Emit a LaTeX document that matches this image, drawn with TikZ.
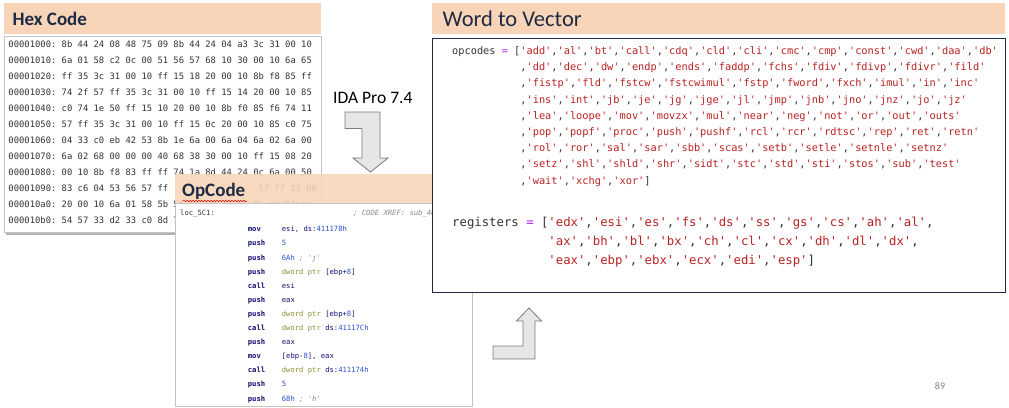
\documentclass[tikz,border=0pt]{standalone}
\usepackage{fontspec}
\setmainfont{Carlito}
\setmonofont{DejaVu Sans Mono}
\usetikzlibrary{shadows,decorations.pathmorphing}

\definecolor{peach}{HTML}{F8D5B9}
\definecolor{navy}{HTML}{1F2A44}
\definecolor{hexgray}{HTML}{333333}
\definecolor{codeblack}{HTML}{333333}
\definecolor{str}{HTML}{BA2121}
\definecolor{opc}{HTML}{AA22FF}
\definecolor{mnem}{HTML}{101070}
\definecolor{num}{HTML}{2B4FD0}
\definecolor{ptrcol}{HTML}{8E8E3A}
\definecolor{cmtgray}{HTML}{8A8A8A}
\definecolor{arrowfill}{HTML}{E6E6E6}
\definecolor{arrowline}{HTML}{7A7A7A}
\definecolor{panelline}{HTML}{C4C4C4}

% quoted, comma separated string list: 'a','b','c'
\ExplSyntaxOn
\seq_new:N \l__vec_items_seq
\NewDocumentCommand \strs { m }
  {
    \seq_clear:N \l__vec_items_seq
    \clist_map_inline:nn { #1 }
      { \seq_put_right:Nn \l__vec_items_seq { \textcolor{str}{'##1'} } }
    \seq_use:Nn \l__vec_items_seq { , }
  }
\ExplSyntaxOff

% disassembly helpers
\newcommand\asm[2]{\makebox[34pt][l]{\bfseries\color{mnem}#1}#2}
\newcommand\nm[1]{\textcolor{num}{#1}}
\newcommand\rg[1]{\textcolor{mnem}{#1}}
\newcommand\dw[1]{\textcolor{ptrcol}{#1}}
\newcommand\cm[1]{\textcolor{cmtgray}{\itshape #1}}

\tikzset{
  band/.style={fill=peach, draw=none},
  title/.style={anchor=west, inner sep=0pt, text=navy,
    font=\fontsize{19}{22}\selectfont\bfseries},
  hexrow/.style={anchor=base west, inner sep=0pt, text=hexgray,
    font=\ttfamily\fontsize{8.84}{10}\selectfont},
  asmrow/.style={anchor=base west, inner sep=0pt, text=codeblack,
    font=\ttfamily\fontsize{7.2}{9}\selectfont},
  vecrow/.style={anchor=base west, inner sep=0pt, text=codeblack,
    font=\ttfamily\fontsize{10.3}{12}\selectfont},
  regrow/.style={anchor=base west, inner sep=0pt, text=codeblack,
    font=\ttfamily\fontsize{12.3}{14}\selectfont},
  blockarrow/.style={fill=arrowfill, draw=arrowline, line width=0.8pt, line join=miter},
}

\begin{document}
\begin{tikzpicture}[x=1pt,y=-1pt]
\useasboundingbox[fill=white] (0,0) rectangle (1009,407);

% ---------------- Hex Code panel ----------------
\fill[band] (4,3) rectangle (320.5,34);
\node[title] (hextitle) at (12.5,18.5) {Hex Code};
\node[draw=panelline, fill=white, line width=0.6pt, minimum width=316.5pt, minimum height=196pt,
      anchor=north west, inner sep=0pt,
      drop shadow={shadow xshift=1.5pt, shadow yshift=-2.5pt, opacity=0.3, fill=black}]
      (hexbox) at (4,36) {};
\foreach \ln [count=\i from 0] in {
  00001000: 8b 44 24 08 48 75 09 8b 44 24 04 a3 3c 31 00 10,
  00001010: 6a 01 58 c2 0c 00 51 56 57 68 10 30 00 10 6a 65,
  00001020: ff 35 3c 31 00 10 ff 15 18 20 00 10 8b f8 85 ff,
  00001030: 74 2f 57 ff 35 3c 31 00 10 ff 15 14 20 00 10 85,
  00001040: c0 74 1e 50 ff 15 10 20 00 10 8b f0 85 f6 74 11,
  00001050: 57 ff 35 3c 31 00 10 ff 15 0c 20 00 10 85 c0 75,
  00001060: 04 33 c0 eb 42 53 8b 1e 6a 00 6a 04 6a 02 6a 00,
  00001070: 6a 02 68 00 00 00 40 68 38 30 00 10 ff 15 08 20,
  00001080: 00 10 8b f8 83 ff ff 74 1a 8d 44 24 0c 6a 00 50}
  \node[hexrow] (hex\i) at ({8.3},{47.3+16*\i}) {\ln};
% rows partly hidden behind the OpCode panel
\node[hexrow] (hex9)  at (8.3,191.3) {00001090: 83 c6 04 53 56 57 ff};
\node[hexrow] (hex9b) at (258.3,191.3) {57 ff 15 00};
\node[hexrow] (hex10) at (8.3,207.3) {000010a0: 20 00 10 6a 01 58 5b 5f 5e 59 c3 55 8b ec 83 ec};
\node[hexrow] (hex11) at (8.3,223.3) {000010b0: 54 57 33 d2 33 c0 8d 7d};

% ---------------- IDA step ----------------
\node[anchor=west, inner sep=0pt, font=\fontsize{17.5}{20}\selectfont] (ida) at (333,98) {IDA Pro 7.4};
\draw[blockarrow] (345,112) -- (380,112) -- (380,158) -- (388,158) -- (370.5,172)
  -- (353,158) -- (362,158) -- (362,128.5) -- (345,128.5) -- cycle;

% ---------------- OpCode panel ----------------
\fill[band, fill opacity=0.88] (175,174) rectangle (432,203);
\node[title] (optitle) at (182,191.5) {OpCode};
\draw[red!85!black, line width=0.5pt, decorate,
      decoration={snake, amplitude=0.7pt, segment length=3pt}] (183,201) -- (247,201);
\node[draw=panelline, fill=white, line width=0.6pt, minimum width=297pt, minimum height=203pt,
      anchor=north west, inner sep=0pt,
      drop shadow={shadow xshift=0.8pt, shadow yshift=-1pt, opacity=0.2, fill=black}]
      (opbox) at (175,203) {};
\node[asmrow] (loc) at (180,215.5) {loc\_5C1:};
\node[asmrow] (xref) at (353,215.5) {\cm{; CODE XREF: sub\_40}};
\node[asmrow] (a1)  at (247.7,231.8) {\asm{mov}{\rg{esi}, \rg{ds:}\nm{411178h}}};
\node[asmrow] (a2)  at (247.7,245.9) {\asm{push}{\nm{5}}};
\node[asmrow] (a3)  at (247.7,260.0) {\asm{push}{\nm{6Ah} \cm{; 'j'}}};
\node[asmrow] (a4)  at (247.7,274.1) {\asm{push}{\dw{dword ptr} \rg{[ebp+}\nm{8}\rg{]}}};
\node[asmrow] (a5)  at (247.7,288.2) {\asm{call}{\rg{esi}}};
\node[asmrow] (a6)  at (247.7,302.3) {\asm{push}{\rg{eax}}};
\node[asmrow] (a7)  at (247.7,316.4) {\asm{push}{\dw{dword ptr} \rg{[ebp+}\nm{8}\rg{]}}};
\node[asmrow] (a8)  at (247.7,330.5) {\asm{call}{\dw{dword ptr} \rg{ds:}\nm{41117Ch}}};
\node[asmrow] (a9)  at (247.7,344.6) {\asm{push}{\rg{eax}}};
\node[asmrow] (a10) at (247.7,358.7) {\asm{mov}{\rg{[ebp-}\nm{8}\rg{], eax}}};
\node[asmrow] (a11) at (247.7,372.8) {\asm{call}{\dw{dword ptr} \rg{ds:}\nm{411174h}}};
\node[asmrow] (a12) at (247.7,386.9) {\asm{push}{\nm{5}}};
\node[asmrow] (a13) at (247.7,401.0) {\asm{push}{\nm{68h} \cm{; 'h'}}};

% ---------------- Word to Vector panel ----------------
\fill[band] (432,3) rectangle (1005,34);
\node[anchor=west, inner sep=0pt, text=navy, font=\fontsize{22.5}{26}\selectfont] (vectitle) at (442.5,19) {Word to Vector};
\node[draw=navy, fill=white, line width=1.1pt, minimum width=573pt, minimum height=254pt,
      anchor=north west, inner sep=0pt] (vecbox) at (432,38) {};

\node[vecrow] (op1) at (452,54.5) {opcodes \textcolor{opc}{=} [\strs{add,al,bt,call,cdq,cld,cli,cmc,cmp,const,cwd,daa,db}};
\node[vecrow] (op2) at (452,70.7) {\phantom{opcodes = [},\strs{dd,dec,dw,endp,ends,faddp,fchs,fdiv,fdivp,fdivr,fild}};
\node[vecrow] (op3) at (452,86.9) {\phantom{opcodes = [},\strs{fistp,fld,fstcw,fstcwimul,fstp,fword,fxch,imul,in,inc}};
\node[vecrow] (op4) at (452,103.1) {\phantom{opcodes = [},\strs{ins,int,jb,je,jg,jge,jl,jmp,jnb,jno,jnz,jo,jz}};
\node[vecrow] (op5) at (452,119.3) {\phantom{opcodes = [},\strs{lea,loope,mov,movzx,mul,near,neg,not,or,out,outs}};
\node[vecrow] (op6) at (452,135.5) {\phantom{opcodes = [},\strs{pop,popf,proc,push,pushf,rcl,rcr,rdtsc,rep,ret,retn}};
\node[vecrow] (op7) at (452,151.7) {\phantom{opcodes = [},\strs{rol,ror,sal,sar,sbb,scas,setb,setle,setnle,setnz}};
\node[vecrow] (op8) at (452,167.9) {\phantom{opcodes = [},\strs{setz,shl,shld,shr,sidt,stc,std,sti,stos,sub,test}};
\node[vecrow] (op9) at (452,184.1) {\phantom{opcodes = [},\strs{wait,xchg,xor}]};

\node[regrow] (rg1) at (452,226) {registers \textcolor{opc}{=} [\strs{edx,esi,es,fs,ds,ss,gs,cs,ah,al},};
\node[regrow] (rg2) at (452,245) {\phantom{registers = [}\strs{ax,bh,bl,bx,ch,cl,cx,dh,dl,dx},};
\node[regrow] (rg3) at (452,264) {\phantom{registers = [}\strs{eax,ebp,ebx,ecx,edi,esp}]};

% ---------------- return step ----------------
\draw[blockarrow] (493,346) -- (523,346) -- (523,321) -- (516.5,321) -- (529,308)
  -- (541.5,321) -- (535,321) -- (535,359) -- (493,359) -- cycle;

\node[text=gray, font=\fontsize{10}{12}\selectfont] (pageno) at (940,386) {89};
\end{tikzpicture}
\end{document}
